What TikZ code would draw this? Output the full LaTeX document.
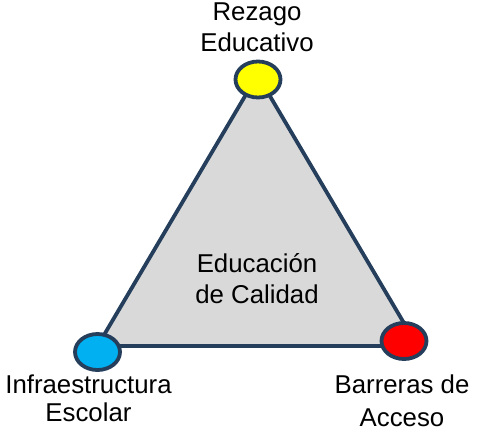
\documentclass[tikz,border=0pt]{standalone}
\usepackage{fontspec}
\setmainfont{Liberation Sans}
\definecolor{navy}{RGB}{36,62,92}
\definecolor{tri}{RGB}{217,217,217}
\definecolor{yel}{RGB}{255,255,0}
\definecolor{cyanb}{RGB}{0,176,240}
\definecolor{redc}{RGB}{255,0,0}
\tikzset{
  dot/.style={ellipse, draw=navy, line width=3.8pt, minimum width=45pt, minimum height=36pt, inner sep=0pt},
  lbl/.style={align=center, inner sep=0pt, anchor=north, text=black}
}
\usetikzlibrary{shapes.geometric}
\begin{document}
\begin{tikzpicture}[x=1pt,y=-1pt]
\useasboundingbox (0,0) rectangle (477,432);
\coordinate (tA) at (257.5,75);
\coordinate (tB) at (97.5,346);
\coordinate (tC) at (417.5,346);
\filldraw[fill=tri, draw=navy, line width=3.8pt, line join=round] (tA) -- (tB) -- (tC) -- cycle;
\node[dot, fill=yel] (top) at (258,79.5) {};
\node[dot, fill=cyanb] (left) at (97.5,352) {};
\node[dot, fill=redc] (right) at (404,341) {};
\node[lbl, font=\fontsize{25.8}{31}\selectfont] (ltop) at (257,3) {Rezago\\Educativo};
\node[lbl, font=\fontsize{25.8}{28}\selectfont] (lleft) at (88.5,375) {Infraestructura\\Escolar};
\node[lbl, font=\fontsize{25.8}{33}\selectfont] (lright) at (402,375) {Barreras de\\Acceso};
\node[lbl, font=\fontsize{25.8}{31}\selectfont] (lmid) at (257,253) {Educación\\de Calidad};
\end{tikzpicture}
\end{document}
